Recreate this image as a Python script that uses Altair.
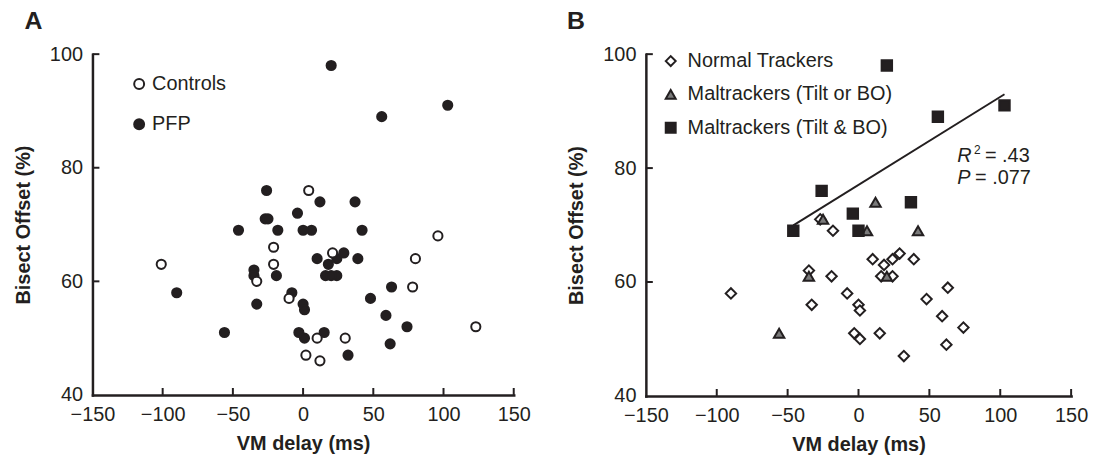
import altair as alt
import pandas as pd

# ---------------- data ----------------
# Panel B groups (PFP participants split by tracking type)
normal_x = [-27, -18, 10, 18, 24, 29, 39, 16, 24, -35, -19, -8, 0, 1, -33, -3, 1, 15, 32, 63, 48, 59, 74, 62, -90]
normal_y = [71, 69, 64, 63, 64, 65, 64, 61, 61, 62, 61, 58, 56, 55, 56, 51, 50, 51, 47, 59, 57, 54, 52, 49, 58]
tiltor_x = [-25, 6, 12, 20, -35, -56, 42]
tiltor_y = [71, 69, 74, 61, 61, 51, 69]
tiltand_x = [-46, -26, -4, 0, 37, 20, 56, 103]
tiltand_y = [69, 76, 72, 69, 74, 98, 89, 91]

# Panel A controls
control_x = [4, -21, -21, -33, -10, 10, 2, 12, 21, 96, 80, 78, 30, 123, -101]
control_y = [76, 66, 63, 60, 57, 50, 47, 46, 65, 68, 64, 59, 50, 52, 63]

groups_a = ["Controls", "PFP"]
groups_b = ["Normal Trackers", "Maltrackers (Tilt or BO)", "Maltrackers (Tilt & BO)"]

x_ticks = [-150, -100, -50, 0, 50, 100, 150]
y_ticks = [40, 60, 80, 100]

# ---------------- tables ----------------
pfp_x = normal_x + tiltor_x + tiltand_x
pfp_y = normal_y + tiltor_y + tiltand_y
df_a = pd.DataFrame({
    "delay": pfp_x + control_x,
    "offset": pfp_y + control_y,
    "status": [groups_a[1]] * len(pfp_x) + [groups_a[0]] * len(control_x),
})
df_b = pd.DataFrame({
    "delay": normal_x + tiltor_x + tiltand_x,
    "offset": normal_y + tiltor_y + tiltand_y,
    "group": [groups_b[0]] * len(normal_x) + [groups_b[1]] * len(tiltor_x) + [groups_b[2]] * len(tiltand_x),
})

FONT = "Liberation Sans"
INK = "#231f20"
GRAY = "#7a7a7a"

xs = alt.Scale(domain=[x_ticks[0], x_ticks[-1]], nice=False, zero=False)
ys = alt.Scale(domain=[y_ticks[0], y_ticks[-1]], nice=False, zero=False)

x_axis = alt.Axis(values=x_ticks, title="VM delay (ms)", labelPadding=10, titlePadding=9,
                  format="d", labelFlush=False, labelOverlap=False)
y_axis = alt.Axis(values=y_ticks, title="Bisect Offset (%)", labelPadding=10, titlePadding=16,
                  format="d", labelFlush=False, labelOverlap=False)


def tick_layers(h):
    xt = alt.Chart(pd.DataFrame({"delay": x_ticks[1:]})).mark_rule(color=INK, strokeWidth=2).encode(
        x=alt.X("delay:Q", scale=xs, axis=x_axis),
        y=alt.value(h), y2=alt.value(h - 7))
    yt = alt.Chart(pd.DataFrame({"offset": y_ticks[1:]})).mark_rule(color=INK, strokeWidth=2).encode(
        y=alt.Y("offset:Q", scale=ys, axis=y_axis),
        x=alt.value(0), x2=alt.value(7))
    return [xt, yt]


def legend(lx, ly, rowpad, offset):
    return alt.Legend(title=None, orient="none", legendX=lx, legendY=ly, padding=0,
                      labelFont=FONT, labelFontSize=20, labelColor=INK, labelLimit=400,
                      symbolSize=100, symbolStrokeWidth=2, rowPadding=rowpad, labelOffset=offset)


# ---------------- panel A ----------------
HA, WA = 343, 424
leg_a = legend(37, 20, 20.5, 3)
pts_a = alt.Chart(df_a).mark_point(filled=True, opacity=1, strokeWidth=2, size=85).encode(
    x=alt.X("delay:Q", scale=xs, axis=x_axis),
    y=alt.Y("offset:Q", scale=ys, axis=y_axis),
    fill=alt.Fill("status:N", scale=alt.Scale(domain=groups_a, range=["white", INK]), legend=leg_a),
    stroke=alt.Stroke("status:N", scale=alt.Scale(domain=groups_a, range=[INK, INK]), legend=leg_a),
    shape=alt.Shape("status:N", scale=alt.Scale(domain=groups_a, range=["circle", "circle"]), legend=leg_a),
)
panel_a = alt.layer(pts_a, *tick_layers(HA)).properties(
    width=WA, height=HA,
    title=alt.TitleParams("A", anchor="start", frame="bounds", fontSize=25, fontWeight="bold", font=FONT,
                          color=INK, offset=10, dx=11),
)

# ---------------- panel B ----------------
HB, WB = 344, 428
leg_b = legend(15, -3, 13.5, 7)
pts_b = alt.Chart(df_b).mark_point(filled=True, opacity=1, strokeWidth=2, size=110).encode(
    x=alt.X("delay:Q", scale=xs, axis=x_axis),
    y=alt.Y("offset:Q", scale=ys, axis=y_axis),
    fill=alt.Fill("group:N", scale=alt.Scale(domain=groups_b, range=["white", GRAY, INK]), legend=leg_b),
    stroke=alt.Stroke("group:N", scale=alt.Scale(domain=groups_b, range=[INK, INK, INK]), legend=leg_b),
    shape=alt.Shape("group:N", scale=alt.Scale(domain=groups_b, range=["diamond", "triangle-up", "square"]),
                    legend=leg_b),
)
reg_b = alt.Chart(df_b).transform_filter(
    alt.datum.group == groups_b[2]
).transform_regression("delay", "offset").mark_line(color=INK, strokeWidth=2).encode(
    x=alt.X("delay:Q", scale=xs, axis=x_axis),
    y=alt.Y("offset:Q", scale=ys, axis=y_axis),
)

ann = pd.DataFrame({"delay": [69.6, 69.6], "offset": [81.1, 77.2]})
ann_r = alt.Chart(ann.iloc[[0]]).mark_text(text="R", fontStyle="italic", font=FONT, fontSize=20,
                                           color=INK, align="left", baseline="alphabetic").encode(
    x=alt.X("delay:Q", scale=xs, axis=x_axis), y=alt.Y("offset:Q", scale=ys, axis=y_axis))
ann_sup = alt.Chart(ann.iloc[[0]]).mark_text(text="2", font=FONT, fontSize=12, color=INK, align="left",
                                             baseline="alphabetic", dx=17, dy=-8).encode(
    x=alt.X("delay:Q", scale=xs, axis=x_axis), y=alt.Y("offset:Q", scale=ys, axis=y_axis))
ann_r2 = alt.Chart(ann.iloc[[0]]).mark_text(text="= .43", font=FONT, fontSize=20, color=INK, align="left",
                                            baseline="alphabetic", dx=28).encode(
    x=alt.X("delay:Q", scale=xs, axis=x_axis), y=alt.Y("offset:Q", scale=ys, axis=y_axis))
ann_p = alt.Chart(ann.iloc[[1]]).mark_text(text="P", fontStyle="italic", font=FONT, fontSize=20,
                                           color=INK, align="left", baseline="alphabetic").encode(
    x=alt.X("delay:Q", scale=xs, axis=x_axis), y=alt.Y("offset:Q", scale=ys, axis=y_axis))
ann_p2 = alt.Chart(ann.iloc[[1]]).mark_text(text="= .077", font=FONT, fontSize=20, color=INK, align="left",
                                            baseline="alphabetic", dx=18).encode(
    x=alt.X("delay:Q", scale=xs, axis=x_axis), y=alt.Y("offset:Q", scale=ys, axis=y_axis))

panel_b = alt.layer(reg_b, pts_b, ann_r, ann_sup, ann_r2, ann_p, ann_p2, *tick_layers(HB)).properties(
    width=WB, height=HB,
    title=alt.TitleParams("B", anchor="start", frame="bounds", fontSize=25, fontWeight="bold", font=FONT,
                          color=INK, offset=10),
)

chart = alt.hconcat(panel_a, panel_b, spacing=36).resolve_scale(
    x="independent", y="independent", fill="independent", stroke="independent",
    shape="independent"
).resolve_legend(fill="independent", stroke="independent", shape="independent").properties(
    padding={"left": 5, "top": 0, "right": 2, "bottom": 0}
).configure_view(stroke=None).configure_axis(
    domainColor=INK, domainWidth=2.5, domainCap="square", ticks=False, grid=False,
    labelFont=FONT, labelFontSize=20, labelColor=INK,
    titleFont=FONT, titleFontSize=20, titleFontWeight="bold", titleColor=INK,
)

chart.save("out.html", embed_options={"renderer": "svg", "actions": False})
